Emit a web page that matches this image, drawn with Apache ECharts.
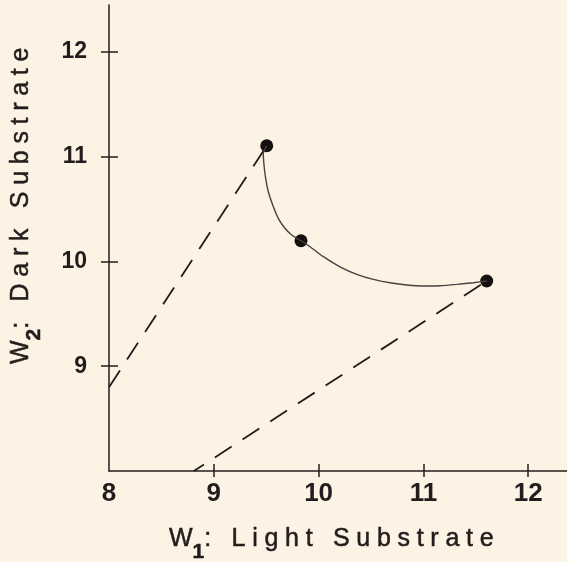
<!DOCTYPE html>
<html>
<head>
<meta charset="utf-8">
<script src="https://cdn.jsdelivr.net/npm/echarts@6/dist/echarts.min.js"></script>
<style>
html,body{margin:0;padding:0;background:#fcf3e5;}
#c{width:567px;height:562px;}
</style>
</head>
<body>
<div id="c"></div>
<script>
// ---- data ----
const xTickLabels = [8, 9, 10, 11, 12];
const xTickMarks = [9, 10, 11, 12];
const yTickLabels = [9, 10, 11, 12];
const dotX = [9.505, 9.832, 11.604];
const dotY = [11.104, 10.197, 9.813];
const curveX = [9.505, 9.472, 9.479, 9.495, 9.520, 9.562, 9.615, 9.679, 9.743, 9.832, 9.918, 10.045, 10.204, 10.364, 10.522, 10.681, 10.841, 10.999, 11.158, 11.318, 11.476, 11.604];
const curveY = [11.104, 11.03, 10.92, 10.79, 10.665, 10.538, 10.411, 10.316, 10.252, 10.197, 10.14, 10.045, 9.949, 9.877, 9.829, 9.797, 9.775, 9.765, 9.768, 9.781, 9.797, 9.813];
const dash1X = [8, 9.505];
const dash1Y = [8.80, 11.104];
const dash2X = [8.81, 11.604];
const dash2Y = [8, 9.813];
const xTitle = ['W', '1', ': Light Substrate'];
const yTitle = ['W', '2', ': Dark Substrate'];

// letter spacing helper for canvas text (family marker "zzlsN" = N/10 px)
(function(){
  const P = CanvasRenderingContext2D.prototype;
  ['fillText', 'strokeText'].forEach(function(name){
    const of = P[name];
    P[name] = function(t, x, y, m){
      if ('letterSpacing' in this) {
        const mt = /zzls(\d+)/.exec(this.font || '');
        this.letterSpacing = mt ? (parseInt(mt[1], 10) / 10) + 'px' : '0px';
      }
      return m === undefined ? of.call(this, t, x, y) : of.call(this, t, x, y, m);
    };
  });
})();

const ink = '#231c1c';
const pair = (xs, ys) => xs.map((v, i) => [v, ys[i]]);

const chart = echarts.init(document.getElementById('c'), null, {renderer: 'canvas'});

function axisBase(extra) {
  return Object.assign({
    type: 'value',
    splitLine: {show: false},
  }, extra);
}

const titleFamily = "'Liberation Sans', Arial, zzls67";
function titleText(parts) {
  return {
    text: parts[0] + '{s|' + parts[1] + '}' + parts[2],
    fontSize: 25,
    fontFamily: titleFamily,
    fill: ink,
    stroke: ink,
    lineWidth: 0.5,
    rich: {
      s: {fontSize: 21, fontWeight: 'bold', fontFamily: "'Liberation Sans', Arial", padding: [26, 0, 0, 0], fill: ink}
    },
    align: 'left',
    verticalAlign: 'middle'
  };
}

chart.setOption({
  backgroundColor: '#fcf3e5',
  animation: false,
  grid: {left: 109, right: 0, top: 5, bottom: 91, containLabel: false},
  xAxis: [
    axisBase({
      min: 8, max: 12.37, position: 'bottom',
      axisLine: {show: true, onZero: false, lineStyle: {color: ink, width: 1.5}},
      axisTick: {show: true, inside: false, length: 6, customValues: xTickMarks, lineStyle: {color: ink, width: 1.5}},
      axisLabel: {show: true, customValues: xTickLabels, margin: 10, color: ink, fontSize: 26, fontWeight: 'bold', fontFamily: "'Liberation Sans Narrow', 'Liberation Sans', Arial"}
    }),
    axisBase({
      min: 8, max: 12.37, position: 'bottom', gridIndex: 0,
      axisLine: {show: false},
      axisTick: {show: true, inside: true, length: 7, customValues: xTickMarks, lineStyle: {color: ink, width: 1.5}},
      axisLabel: {show: false}
    })
  ],
  yAxis: [
    axisBase({
      min: 8, max: 12.447, position: 'left',
      axisLine: {show: true, onZero: false, lineStyle: {color: ink, width: 1.5}},
      axisTick: {show: true, inside: false, length: 8, customValues: yTickLabels, lineStyle: {color: ink, width: 1.5}},
      axisLabel: {show: true, customValues: yTickLabels, margin: 22, color: ink, fontSize: 23, fontWeight: 'bold', fontFamily: "'Liberation Sans', Arial"}
    }),
    axisBase({
      min: 8, max: 12.447, position: 'left', gridIndex: 0,
      axisLine: {show: false},
      axisTick: {show: true, inside: true, length: 9, customValues: yTickLabels, lineStyle: {color: ink, width: 1.5}},
      axisLabel: {show: false}
    })
  ],
  series: [
    {
      type: 'line', data: pair(dash1X, dash1Y), symbol: 'none', clip: false,
      lineStyle: {color: ink, width: 1.8, type: [20, 13]}
    },
    {
      type: 'line', data: pair(dash2X, dash2Y), symbol: 'none', clip: false,
      lineStyle: {color: ink, width: 1.8, type: [20, 13], dashOffset: 8}
    },
    {
      type: 'line', data: pair(curveX, curveY), symbol: 'none', smooth: 0.2,
      lineStyle: {color: '#4a4242', width: 1.4}
    },
    {
      type: 'scatter', data: pair(dotX, dotY), symbol: 'circle', symbolSize: 13,
      itemStyle: {color: '#141010', opacity: 1}
    }
  ],
  graphic: [
    {type: 'text', x: 169, y: 539, style: titleText(xTitle)},
    {type: 'text', x: 21, y: 364, rotation: Math.PI / 2, style: titleText(yTitle)}
  ]
});
</script>
</body>
</html>
